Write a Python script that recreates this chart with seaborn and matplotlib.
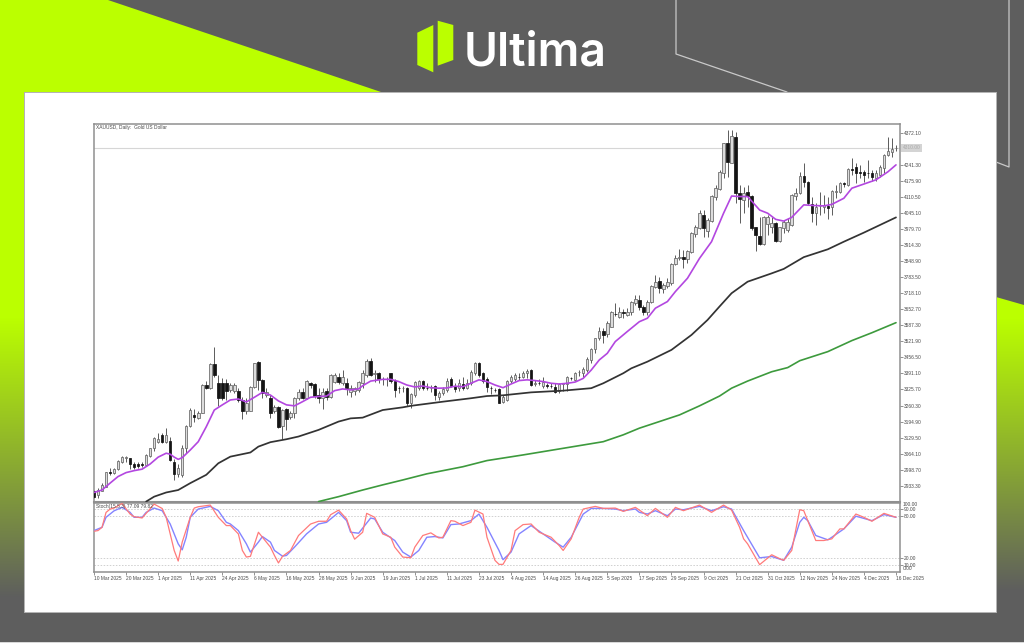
import numpy as np
import pandas as pd
import matplotlib
matplotlib.use("Agg")
import matplotlib.pyplot as plt
from matplotlib.patches import Polygon, Rectangle
from matplotlib.transforms import offset_copy
import seaborn as sns

# ---------- data ----------
open_ = [2910,2896,2914,2930,2990,2984,3001,3032,3045,3045,
 3022,3022,3021,3020,3056,3086,3113,3140,3113,3117,
 3032,2982,2978,3086,3177,3222,3208,3231,3343,3331,
 3430,3351,3351,3354,3324,3320,3320,3283,3240,3240,
 3337,3439,3365,3303,3290,3236,3253,3177,3245,3212,
 3229,3290,3317,3293,3354,3348,3303,3290,3320,3297,
 3358,3378,3351,3354,3317,3321,3324,3354,3385,3443,
 3388,3392,3368,3367,3392,3362,3331,3330,3331,3272,
 3303,3331,3360,3333,3331,3341,3297,3313,3324,3367,
 3341,3331,3348,3333,3351,3394,3435,3392,3367,3331,
 3324,3327,3276,3283,3360,3367,3376,3375,3392,3405,
 3348,3354,3340,3342,3341,3337,3321,3350,3348,3372,
 3365,3395,3392,3405,3446,3489,3534,3564,3550,3582,
 3635,3620,3641,3629,3643,3677,3691,3661,3643,3684,
 3742,3769,3734,3748,3758,3836,3863,3867,3856,3888,
 3959,3983,4037,3973,4014,4109,4142,4209,4332,4250,
 4356,4128,4098,4132,4114,3987,3951,3919,4000,3987,
 4003,3932,3983,3976,3996,4114,4128,4196,4173,4082,
 4046,4073,4071,4074,4068,4131,4132,4167,4159,4223,
 4231,4210,4211,4208,4209,4186,4200,4227,4281,4295,4308]
high = [2916,2923,2944,2991,3005,3005,3039,3055,3055,3048,
 3032,3032,3032,3062,3089,3134,3147,3147,3168,3134,
 3041,3022,3100,3180,3249,3245,3236,3347,3362,3432,
 3500,3385,3371,3367,3351,3351,3331,3297,3290,3340,
 3435,3442,3367,3331,3303,3263,3259,3245,3249,3240,
 3297,3327,3331,3365,3358,3351,3331,3331,3331,3388,
 3394,3392,3405,3371,3344,3337,3362,3405,3449,3453,
 3405,3398,3378,3375,3394,3367,3340,3340,3337,3310,
 3360,3365,3365,3351,3344,3344,3321,3337,3371,3375,
 3351,3367,3378,3367,3405,3439,3439,3398,3375,3340,
 3331,3331,3303,3365,3385,3392,3392,3403,3408,3408,
 3365,3367,3375,3354,3351,3351,3354,3354,3381,3378,
 3398,3405,3419,3457,3494,3537,3582,3575,3603,3646,
 3677,3661,3653,3657,3688,3711,3711,3670,3691,3752,
 3792,3783,3758,3779,3840,3874,3897,3894,3894,3969,
 3996,4057,4057,4023,4118,4159,4220,4332,4383,4383,
 4376,4159,4152,4159,4118,3989,4030,4033,4037,4030,
 4010,3989,4017,4023,4123,4146,4214,4247,4175,4112,
 4084,4132,4118,4112,4139,4159,4173,4173,4227,4268,
 4247,4241,4220,4261,4220,4220,4241,4284,4356,4349,4322]
low = [2882,2882,2910,2930,2978,2982,2998,3028,3032,3001,
 3001,3005,3011,3016,3052,3073,3107,3107,3107,3036,
 2957,2968,2971,3066,3172,3195,3204,3229,3327,3327,
 3375,3259,3283,3283,3317,3313,3276,3204,3226,3236,
 3333,3324,3290,3294,3208,3231,3168,3123,3161,3206,
 3208,3283,3286,3286,3331,3290,3272,3245,3283,3290,
 3351,3348,3344,3303,3297,3303,3317,3331,3375,3381,
 3358,3351,3344,3340,3351,3294,3313,3317,3259,3249,
 3297,3324,3324,3324,3317,3283,3283,3303,3317,3337,
 3317,3321,3324,3327,3344,3385,3378,3351,3317,3307,
 3317,3269,3272,3279,3351,3362,3365,3371,3371,3340,
 3340,3344,3331,3331,3331,3313,3313,3321,3321,3365,
 3360,3381,3375,3398,3432,3473,3528,3514,3541,3579,
 3625,3615,3616,3625,3629,3670,3650,3629,3629,3677,
 3738,3718,3718,3738,3752,3833,3854,3820,3840,3883,
 3949,3978,3946,3946,4010,4098,4139,4186,4190,4247,
 4084,4003,4044,4068,3976,3892,3915,3915,3956,3962,
 3928,3928,3962,3969,3992,4098,4123,4152,4078,4010,
 3996,4037,4044,4021,4037,4105,4128,4152,4155,4200,
 4166,4186,4173,4186,4177,4177,4193,4209,4277,4275,4299]
close = [2889,2916,2937,2988,2984,3002,3036,3050,3050,3022,
 3009,3014,3019,3059,3086,3127,3123,3113,3140,3039,
 2982,3005,3086,3177,3242,3212,3231,3344,3331,3430,
 3385,3290,3290,3321,3344,3344,3283,3240,3269,3337,
 3432,3365,3313,3317,3231,3253,3174,3242,3204,3231,
 3293,3317,3293,3360,3344,3299,3290,3317,3297,3385,
 3385,3358,3375,3331,3331,3331,3358,3392,3443,3385,
 3392,3367,3367,3368,3362,3324,3330,3331,3272,3307,
 3358,3360,3331,3332,3332,3303,3313,3327,3362,3341,
 3327,3351,3331,3354,3398,3435,3385,3360,3337,3330,
 3323,3272,3294,3362,3378,3385,3375,3394,3403,3344,
 3354,3353,3358,3341,3339,3317,3348,3351,3375,3371,
 3394,3396,3408,3449,3489,3534,3566,3548,3598,3640,
 3633,3643,3639,3643,3684,3693,3661,3643,3684,3748,
 3765,3738,3752,3765,3837,3860,3865,3856,3892,3965,
 3987,4044,3983,4016,4114,4146,4214,4329,4254,4359,
 4125,4101,4128,4114,3983,3956,3919,4027,4027,4003,
 3932,3987,4010,4010,4118,4128,4196,4173,4084,4046,
 4071,4075,4076,4065,4136,4136,4166,4165,4223,4222,
 4207,4208,4200,4206,4193,4209,4231,4281,4299,4304,4310]

purple_bar = [0,2,4,6,8,10,12,14,16,18,19,20,21,22,24,26,28,30,32,34,36,38,40,42,44,46,48,50,52,54,56,58,60,62,64,66,67,
 69,72,74,76,78,80,82,84,86,88,90,92,94,96,98,100,102,104,106,108,110,112,114,116,118,120,122,124,126,128,130,133,136,138,140,143,145,148,151,154,157,159,161,163,166,168,170,172,174,177,180,182,184,187,189,192,195,198,200]
purple_val = [2906,2916,2944,2971,2987,2995,3001,3022,3050,3066,3062,3050,3041,3048,3079,3113,3174,3242,3263,3283,3287,3275,3294,3314,3303,3279,3263,3259,3276,3294,3297,3299,3321,3328,3324,3328,3341,
 3360,3367,3367,3358,3344,3336,3340,3333,3331,3332,3339,3337,3351,3365,3358,3344,3333,3348,3362,3365,3362,3358,3351,3348,3351,3356,3371,3405,3446,3473,3521,3562,3602,3616,3657,3684,3725,3779,3860,3928,4044,4114,4112,4112,4057,4044,4019,4012,4027,4078,4075,4074,4080,4105,4146,4163,4180,4213,4241]

black_bar = [13,15,18,21,24,28,31,34,39,41,44,48,51,56,61,64,67,72,77,79,87,94,98,102,109,117,124,127,132,134,138,144,149,153,156,159,163,169,172,177,183,187,192,200]
black_val = [2869,2889,2906,2916,2944,2978,3025,3052,3069,3093,3111,3123,3134,3161,3195,3208,3211,3242,3253,3259,3276,3290,3299,3302,3314,3321,3331,3351,3392,3412,3439,3487,3548,3609,3664,3718,3765,3799,3817,3865,3897,3928,3965,4027]

green_bar = [56,61,67,72,77,83,92,98,107,117,127,132,136,141,146,151,156,159,163,169,173,176,183,189,194,200]
green_val = [2869,2889,2916,2937,2957,2982,3011,3036,3059,3086,3113,3141,3168,3195,3222,3259,3299,3331,3360,3398,3415,3443,3480,3525,3557,3598]

red_bar = [0,1,2,3,4,5,7,9,10,12,13,15,17,18,19,20,21,22,24,25,26,29,31,33,34,36,37,38,39,41,42,44,45,46,47,49,51,54,56,58,59,61,63,64,65,67,
 68,70,72,74,75,77,79,80,82,84,86,87,89,90,92,94,95,97,98,100,101,102,104,105,107,109,111,114,116,117,119,121,122,125,127,130,132,135,
 136,138,140,143,145,147,151,154,157,159,161,162,163,166,169,171,172,174,176,177,180,182,184,186,187,190,192,194,197,200]
red_val = [58.6,59.6,64.3,85.7,90.5,92,98.6,83.4,79.6,77.7,84.4,97.7,91.4,78.7,54.8,31,15.8,43,78.7,92,93.9,96.3,78.7,66.8,66.8,54.8,31,21.5,22.5,57.2,50,35.8,23.8,13,22.5,31,52.5,69,73,73,82.4,89,76.3,59.6,47.2,57.2,
 84.4,78.7,54.8,50,35.8,21.5,20.5,35.8,52.5,56.3,49,50,73.9,73,66.8,71.5,89,83.4,50,16.7,11,11,31,59.5,68.2,69.1,57.2,50,38.1,31,47.7,78.7,90.6,94.4,91.5,92,87.2,93,
 89.1,81,91.5,78.7,93,88.2,96.3,85.8,96.3,89.1,64.3,47.7,40.5,10.6,24.8,19.2,16.8,31,89.6,88.2,45.3,45.3,47.7,62,62,83.4,78.7,73,84.4,78.7]

blue_bar = [0,2,3,5,7,9,10,12,13,15,17,19,21,22,23,24,26,29,31,33,34,36,38,39,41,42,44,45,47,48,50,53,56,58,60,61,63,64,66,
 69,70,72,75,77,79,81,83,85,87,89,91,94,96,98,101,102,104,106,109,112,115,117,119,122,124,127,130,132,135,
 136,138,140,143,145,147,151,154,157,159,162,166,169,172,174,176,177,178,180,183,184,187,190,194,197,200]
blue_val = [59.6,64.3,78.7,88,93,85.8,78.7,78.7,85.8,92,88.2,69.1,40.5,31.9,50,78.7,90.6,94.4,88.2,71.5,69.1,59.6,40.5,28.6,43,51,43,31,22.8,23.8,35.8,54.8,69.1,71.5,81,85.8,73.9,57.2,55.8,
 77.7,76.3,57.2,45.3,28.6,21.5,31,50,51,49,68.2,69.1,73.9,83.4,64.3,31,17.7,28.6,54.8,66.8,54.8,42.9,35.8,50,83.4,91.5,91.5,90.6,88.2,90.6,
 85.8,83.4,88.2,81,90.6,89.6,94.4,88.2,93.9,90.6,59.6,20.4,22.3,16.8,35.8,71.5,78.7,73.9,52.5,46.3,50,62,80.3,73.9,82.6,78.7]

price_ticks = [4372.10,4241.30,4175.90,4110.50,4045.10,3979.70,3914.30,3848.90,3783.50,3718.10,3652.70,3587.30,
               3521.90,3456.50,3391.10,3325.70,3260.30,3194.90,3129.50,3064.10,2998.70,2933.30]
date_labels = ["10 Mar 2025","20 Mar 2025","1 Apr 2025","11 Apr 2025","24 Apr 2025","6 May 2025","16 May 2025",
               "28 May 2025","9 Jun 2025","19 Jun 2025","1 Jul 2025","11 Jul 2025","23 Jul 2025","4 Aug 2025",
               "14 Aug 2025","26 Aug 2025","5 Sep 2025","17 Sep 2025","29 Sep 2025","9 Oct 2025","21 Oct 2025",
               "31 Oct 2025","12 Nov 2025","24 Nov 2025","4 Dec 2025","16 Dec 2025"]
stoch_levels = [90, 80, 20, 10]
last_price = 4310.0

# ---------- colours ----------
GRAY, LIME = "#5e5e5e", "#bbff00"
FRAME = "#8f8f8f"
TXT = "#4a4a4a"
SMALL = 3.5

sns.set_theme(style="white")
plt.rcParams["font.family"] = ["Liberation Sans", "DejaVu Sans"]
W, H = 1024, 643
fig = plt.figure(figsize=(W / 100, H / 100), dpi=100, facecolor=GRAY)

def rect(l, t, r, b):
    return [l / W, 1 - b / H, (r - l) / W, (b - t) / H]

# ---------- banner backdrop ----------
bg = fig.add_axes([0, 0, 1, 1], zorder=0)
bg.set_xlim(0, W); bg.set_ylim(H, 0); bg.axis("off")
bg.add_patch(Polygon([(0, 0), (108, 0), (381, 92), (0, 92)], fc=LIME, ec="none"))

def fade(poly, y0, y1):
    lime = np.array(matplotlib.colors.to_rgb(LIME)); gray = np.array(matplotlib.colors.to_rgb(GRAY))
    t = np.clip((np.arange(H) - y0) / (y1 - y0), 0, 1)[:, None, None]
    img = lime[None, None, :] * (1 - t) + gray[None, None, :] * t
    im = bg.imshow(img, extent=(0, W, H, 0), aspect="auto", zorder=1)
    im.set_clip_path(Polygon(poly, transform=bg.transData))

fade([(0, 92), (24, 92), (24, 612), (0, 612)], 317, 597)
fade([(996, 297), (1024, 305), (1024, 612), (996, 612)], 318, 590)
bg.set_xlim(0, W); bg.set_ylim(H, 0)
bg.plot([676, 676, 787], [0, 54, 92], color="#c9c9c9", lw=0.9, zorder=2)
bg.plot([1009, 1009, 996], [0, 167, 162], color="#c9c9c9", lw=0.9, zorder=2)
bg.add_patch(Rectangle((0, 641.5), W, 2, fc="#d8d8d8", ec="none", zorder=2))
bg.add_patch(Rectangle((24, 92), 972, 520, fc="white", ec="#b5b5b5", lw=0.7, zorder=3))
bg.add_patch(Polygon([(417.3, 32.7), (433.3, 25), (433.3, 72.3), (417.3, 65)], fc=LIME, ec="none", zorder=3))
bg.add_patch(Polygon([(437.7, 20.7), (453.3, 25), (453.3, 60), (437.7, 65.7)], fc=LIME, ec="none", zorder=3))
bg.text(463.5, 65, "Ultima", color="white", fontsize=33.3, family="Inter", fontweight="semibold",
        ha="left", va="baseline", zorder=3)

# ---------- tables ----------
bars = np.arange(len(close))
candles = pd.DataFrame({"bar": bars, "open": open_, "high": high, "low": low, "close": close})
candles["up"] = candles["close"] >= candles["open"]
ma_fast = pd.DataFrame({"bar": purple_bar, "price": purple_val})
ma_mid = pd.DataFrame({"bar": black_bar, "price": black_val})
ma_slow = pd.DataFrame({"bar": green_bar, "price": green_val})
k_line = pd.DataFrame({"bar": red_bar, "value": red_val})
d_line = pd.DataFrame({"bar": blue_bar, "value": blue_val})

# ---------- price pane ----------
ax = fig.add_axes(rect(94, 124, 900, 502), zorder=2)
ax.set_facecolor("white")
ax.axhline(last_price, color="#d6d6d6", lw=0.8, zorder=1)
ax.vlines(candles["bar"], candles["low"], candles["high"], color="#505050", lw=0.65, zorder=2)
bodies = candles.assign(bottom=candles[["open", "close"]].min(axis=1),
                        height=(candles["close"] - candles["open"]).abs())
for is_up, part in bodies.groupby("up"):
    ax.bar(part["bar"], part["height"], bottom=part["bottom"], width=0.62,
           color="#dcdcdc" if is_up else "#141414", edgecolor="#666666" if is_up else "#141414",
           linewidth=0.55, zorder=3)
sns.lineplot(data=ma_slow, x="bar", y="price", ax=ax, color="#3d9a3d", lw=1.2, legend=False, zorder=4, errorbar=None)
sns.lineplot(data=ma_mid, x="bar", y="price", ax=ax, color="#333333", lw=1.25, legend=False, zorder=4, errorbar=None)
sns.lineplot(data=ma_fast, x="bar", y="price", ax=ax, color="#b347e0", lw=1.2, legend=False, zorder=5, errorbar=None)
ax.set_xlim(0, 201)
ax.set_ylim(2867.2, 4407.6)
ax.set_xlabel(""); ax.set_ylabel("")
ax.set_xticks([])
ax.yaxis.tick_right()
ax.set_yticks(price_ticks)
ax.set_yticklabels([f"{v:.2f}" for v in price_ticks], fontsize=SMALL, color=TXT)
ax.tick_params(axis="y", length=1.8, width=0.5, pad=0.7, color="#666666", right=True, left=False)
for s in ax.spines.values():
    s.set_color(FRAME); s.set_linewidth(1.1)
ax.spines["bottom"].set_linewidth(1.5)
ax.text(0.4, 4393, "XAUUSD, Daily:  Gold US Dollar", fontsize=SMALL, color=TXT, va="center", ha="left", zorder=6)
ax.text(1.0033, last_price, "4310.00", transform=ax.get_yaxis_transform(), fontsize=SMALL, color="#aaaaaa",
        va="center", ha="left", bbox=dict(fc="#d4d4d4", ec="none", pad=1.0), zorder=6, clip_on=False)

# ---------- stochastic pane ----------
sub = fig.add_axes(rect(94, 502.5, 900, 572), zorder=2)
sub.set_facecolor("white")
for lv in stoch_levels:
    sub.axhline(lv, color="#c4c4c4", lw=0.55, ls=(0, (2, 2)), zorder=1)
sns.lineplot(data=d_line, x="bar", y="value", ax=sub, color="#8484ff", lw=1.0, legend=False, zorder=3, errorbar=None)
sns.lineplot(data=k_line, x="bar", y="value", ax=sub, color="#ff7a7a", lw=0.9, legend=False, zorder=4, errorbar=None)
sub.set_xlim(0, 201)
sub.set_ylim(0, 100)
sub.set_xlabel(""); sub.set_ylabel("")
sub.yaxis.tick_right()
sub.set_yticks(stoch_levels)
sub.set_yticklabels([f"{v:.2f}" for v in stoch_levels], fontsize=SMALL, color=TXT)
sub.tick_params(axis="y", length=1.8, width=0.5, pad=0.7, color="#666666", right=True, left=False)
tick_bars = bars[::8]
sub.set_xticks(tick_bars)
sub.set_xticklabels(date_labels, fontsize=SMALL, color=TXT, ha="left")
sub.tick_params(axis="x", length=2.0, width=0.5, pad=0.6, color="#666666", bottom=True)
for s in sub.spines.values():
    s.set_color(FRAME); s.set_linewidth(1.1)
ytr = sub.get_yaxis_transform()
for val, dy in ((100, -1.6), (0, 2.3)):
    sub.text(1.0033, val, f"{val:.2f}", fontsize=SMALL, color=TXT, va="center", ha="left",
             transform=offset_copy(ytr, fig=fig, y=dy, units="points"), clip_on=False)
sub.text(0.4, 94, "Stoch(15,5,3) 77.09 79.82", fontsize=SMALL, color=TXT, va="center", ha="left", zorder=6)

fig.savefig("out.png", dpi=100, facecolor=fig.get_facecolor())
